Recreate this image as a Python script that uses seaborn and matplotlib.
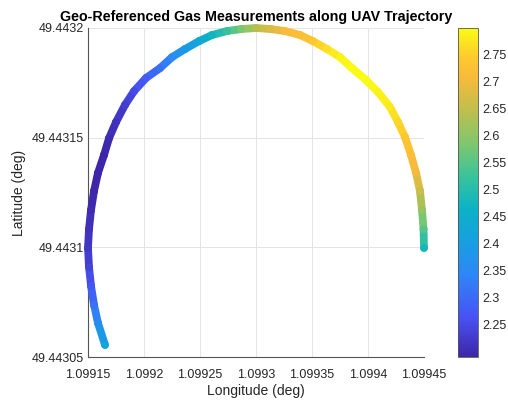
import numpy as np
import pandas as pd
import matplotlib
matplotlib.use("Agg")
import matplotlib.pyplot as plt
from matplotlib.collections import LineCollection
from matplotlib.colors import LinearSegmentedColormap, Normalize
import seaborn as sns

# UAV track samples (deg) and gas reading at each sample
longitude = [
    1.0991652, 1.0991589, 1.0991554, 1.0991527, 1.0991509, 1.0991500,
    1.0991509, 1.0991527, 1.0991554, 1.0991589, 1.0991643, 1.0991688,
    1.0991750, 1.0991830, 1.0991911, 1.0992018, 1.0992143, 1.0992250,
    1.0992366, 1.0992491, 1.0992607, 1.0992741, 1.0992866, 1.0993000,
    1.0993134, 1.0993259, 1.0993393, 1.0993509, 1.0993634, 1.0993750,
    1.0993857, 1.0993982, 1.0994089, 1.0994196, 1.0994268, 1.0994330,
    1.0994384, 1.0994429, 1.0994464, 1.0994482, 1.0994496, 1.0994500,
]
latitude = [
    49.4430555, 49.4430655, 49.4430737, 49.4430824, 49.4430910, 49.4430997,
    49.4431083, 49.4431170, 49.4431257, 49.4431339, 49.4431421, 49.4431498,
    49.4431571, 49.4431649, 49.4431712, 49.4431772, 49.4431817, 49.4431867,
    49.4431904, 49.4431940, 49.4431968, 49.4431986, 49.4431995, 49.4432000,
    49.4431995, 49.4431986, 49.4431968, 49.4431940, 49.4431904, 49.4431867,
    49.4431817, 49.4431763, 49.4431708, 49.4431640, 49.4431571, 49.4431503,
    49.4431421, 49.4431339, 49.4431257, 49.4431170, 49.4431083, 49.4430997,
]
gas = [
    2.42, 2.36, 2.31, 2.27, 2.24, 2.22,
    2.21, 2.20, 2.19, 2.19, 2.19, 2.20,
    2.21, 2.23, 2.25, 2.28, 2.31, 2.35,
    2.39, 2.43, 2.47, 2.52, 2.58, 2.64,
    2.68, 2.71, 2.72, 2.74, 2.77, 2.79,
    2.80, 2.80, 2.79, 2.78, 2.76, 2.74,
    2.72, 2.70, 2.66, 2.61, 2.55, 2.48,
]

x_ticks = [1.09915, 1.0992, 1.09925, 1.0993, 1.09935, 1.0994, 1.09945]
x_tick_labels = ["1.09915", "1.0992", "1.09925", "1.0993", "1.09935", "1.0994", "1.09945"]
y_ticks = [49.44305, 49.4431, 49.44315, 49.4432]
y_tick_labels = ["49.44305", "49.4431", "49.44315", "49.4432"]
cbar_ticks = [2.25, 2.3, 2.35, 2.4, 2.45, 2.5, 2.55, 2.6, 2.65, 2.7, 2.75]
cbar_tick_labels = ["2.25", "2.3", "2.35", "2.4", "2.45", "2.5", "2.55", "2.6", "2.65", "2.7", "2.75"]
gas_range = (2.19, 2.80)

df = pd.DataFrame({"lon": longitude, "lat": latitude, "gas": gas})

sns.set_style("white")
plt.rcParams["font.family"] = ["Liberation Sans", "DejaVu Sans"]

# parula-like colour map
parula = LinearSegmentedColormap.from_list("parula", [
    (0.00, (0.2422, 0.1504, 0.6603)),
    (0.12, (0.2810, 0.3228, 0.9579)),
    (0.25, (0.1786, 0.5289, 0.9682)),
    (0.35, (0.0900, 0.6250, 0.8800)),
    (0.45, (0.0420, 0.6990, 0.7770)),
    (0.55, (0.2260, 0.7660, 0.6070)),
    (0.65, (0.4960, 0.7800, 0.4310)),
    (0.75, (0.7460, 0.7470, 0.3030)),
    (0.85, (0.9700, 0.7300, 0.2300)),
    (0.91, (0.9950, 0.7900, 0.1800)),
    (1.00, (0.9769, 0.9839, 0.0805)),
])
norm = Normalize(*gas_range)

text_col = "#262626"
fig = plt.figure(figsize=(5.08, 4.0), dpi=100)
ax = fig.add_axes([88 / 508, 1 - 357 / 400, 336 / 508, 329 / 400])
cax = fig.add_axes([458 / 508, 1 - 357 / 400, 20 / 508, 329 / 400])

# coloured trajectory
pts = np.column_stack([df["lon"], df["lat"]])
segs = np.stack([pts[:-1], pts[1:]], axis=1)
seg_vals = (df["gas"].values[:-1] + df["gas"].values[1:]) / 2
lc = LineCollection(segs, cmap=parula, norm=norm, linewidths=5.6,
                    capstyle="round", joinstyle="round", clip_on=False, zorder=3)
lc.set_array(seg_vals)
ax.add_collection(lc)
sns.scatterplot(data=df, x="lon", y="lat", hue="gas", palette=parula, hue_norm=norm,
                s=31, linewidth=0, legend=False, ax=ax, zorder=4, clip_on=False)

ax.set_xlim(x_ticks[0], x_ticks[-1])
ax.set_ylim(y_ticks[0], y_ticks[-1])
ax.set_xticks(x_ticks)
ax.set_xticklabels(x_tick_labels)
ax.set_yticks(y_ticks)
ax.set_yticklabels(y_tick_labels)
ax.grid(True, color="#e4e4e4", linewidth=0.7)
ax.set_axisbelow(True)
for side in ("top", "right"):
    ax.spines[side].set_visible(False)
for side in ("left", "bottom"):
    ax.spines[side].set_color("#555555")
    ax.spines[side].set_linewidth(0.8)
ax.tick_params(direction="in", length=3, width=0.6, color="#555555",
               labelsize=9, labelcolor=text_col, pad=3)
ax.tick_params(axis="x", pad=9)
ax.set_xlabel("Longitude (deg)", fontsize=10, color=text_col, labelpad=2)
ax.set_ylabel("Latitude (deg)", fontsize=10, color=text_col, labelpad=4)
ax.set_title("Geo-Referenced Gas Measurements along UAV Trajectory",
             fontsize=10.3, fontweight="bold", color="black", pad=5)

sm = plt.cm.ScalarMappable(cmap=parula, norm=norm)
cb = fig.colorbar(sm, cax=cax)
cb.set_ticks(cbar_ticks)
cb.set_ticklabels(cbar_tick_labels)
cb.outline.set_linewidth(0.6)
cb.outline.set_edgecolor("#555555")
cax.tick_params(direction="in", length=3, width=0.6, color="#555555",
                labelsize=9, labelcolor=text_col, pad=3)

fig.savefig("out.png", dpi=100)
